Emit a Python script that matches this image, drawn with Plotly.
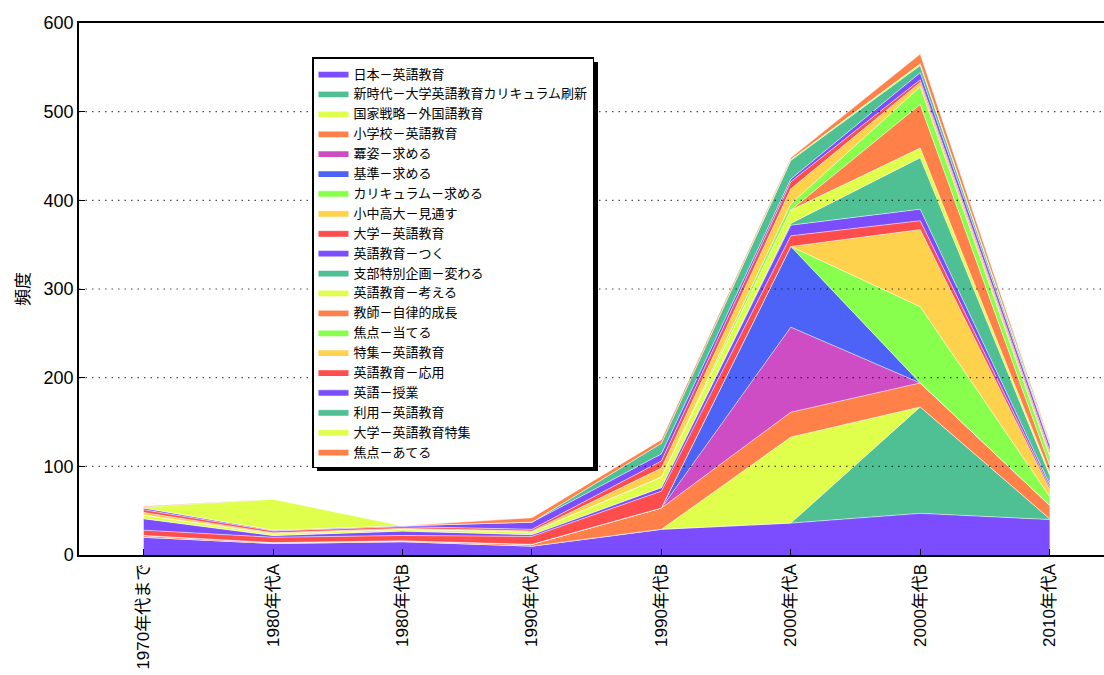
import plotly.graph_objects as go

periods = ["1970年代まで", "1980年代A", "1980年代B", "1990年代A",
           "1990年代B", "2000年代A", "2000年代B", "2010年代A"]

# Frequency of each topic per period (stacked bottom to top)
s_nihon_eigo = [20, 13, 15, 10, 29, 36, 47, 40]
s_shinjidai = [0, 0, 0, 0, 0, 0, 120, 1]
s_kokka = [0, 0, 0, 0, 0, 97, 0, 0]
s_shogakko = [2, 1, 1, 2, 24, 28, 27, 15]
s_beki = [0, 0, 0, 0, 0, 96, 0, 0]
s_kijun = [0, 0, 0, 0, 0, 91, 0, 0]
s_curriculum = [0, 0, 0, 0, 0, 0, 86, 10]
s_shochu = [0, 0, 0, 0, 0, 0, 87, 8]
s_daigaku = [6, 6, 6, 9, 19, 12, 10, 3]
s_tsuku = [13, 2, 5, 2, 4, 12, 13, 3]
s_shibu = [0, 0, 0, 0, 0, 2, 58, 10]
s_kangaeru = [4, 2, 2, 3, 12, 15, 11, 3]
s_kyoshi = [0, 0, 0, 0, 0, 0, 49, 8]
s_ateru_k = [0, 0, 0, 0, 0, 7, 20, 10]
s_tokushu = [3, 1, 1, 1, 10, 17, 5, 4]
s_oyo = [3, 2, 2, 2, 8, 8, 3, 3]
s_jugyo = [2, 1, 1, 8, 8, 3, 8, 6]
s_riyo = [0, 0, 0, 0, 12, 21, 8, 2]
s_daigaku_tokushu = [1, 35, 0, 0, 0, 1, 2, 1]
s_ateru_h = [1, 0, 0, 5, 4, 2, 11, 2]

names = ["日本－英語教育", "新時代－大学英語教育カリキュラム刷新", "国家戦略－外国語教育",
         "小学校－英語教育", "冪姿－求める", "基準－求める", "カリキュラム－求める",
         "小中高大－見通す", "大学－英語教育", "英語教育－つく", "支部特別企画－変わる",
         "英語教育－考える", "教師－自律的成長", "焦点－当てる", "特集－英語教育",
         "英語教育－応用", "英語－授業", "利用－英語教育", "大学－英語教育特集", "焦点－あてる"]

series = [s_nihon_eigo, s_shinjidai, s_kokka, s_shogakko, s_beki, s_kijun,
          s_curriculum, s_shochu, s_daigaku, s_tsuku, s_shibu, s_kangaeru,
          s_kyoshi, s_ateru_k, s_tokushu, s_oyo, s_jugyo, s_riyo,
          s_daigaku_tokushu, s_ateru_h]

PURPLE, TEAL, YELLOW, ORANGE = "#7b4dff", "#4fbf94", "#e0ff4d", "#ff8048"
MAGENTA, BLUE, GREEN, GOLD, RED = "#cf4dc4", "#4d63f7", "#88ff4d", "#ffd24d", "#ff4d4d"
colors = [PURPLE, TEAL, YELLOW, ORANGE, MAGENTA, BLUE, GREEN, GOLD, RED,
          PURPLE, TEAL, YELLOW, ORANGE, GREEN, GOLD, RED, PURPLE, TEAL, YELLOW, ORANGE]

fig = go.Figure()
for name, vals, col in zip(names, series, colors):
    fig.add_trace(go.Scatter(
        x=periods, y=vals, name=name, mode="lines", stackgroup="one",
        line=dict(width=0.8, color="rgba(255,255,255,0.65)"),
        fillcolor=col,
    ))

font_main = "Liberation Sans, Noto Sans CJK JP, sans-serif"
y_ticks = [0, 100, 200, 300, 400, 500, 600]

# dotted horizontal grid drawn over the filled areas
for v in y_ticks[1:-1]:
    fig.add_shape(type="line", xref="paper", yref="y", x0=0, x1=1, y0=v, y1=v,
                  line=dict(color="rgba(0,0,0,0.7)", width=1.2, dash="1.5px,5px"),
                  layer="above")

L, R, T, B = 79, 0, 23, 120
W, H = 1104, 675
pw, ph = W - L - R, H - T - B

def px_x(p):
    return (p - L) / pw

def px_y(p):
    return (H - B - p) / ph

# legend drop shadow
fig.add_shape(type="rect", xref="paper", yref="paper",
              x0=px_x(317), x1=px_x(598), y0=px_y(471), y1=px_y(62),
              fillcolor="black", line=dict(width=0), layer="above")

fig.update_layout(
    width=W, height=H,
    margin=dict(l=L, r=R, t=T, b=B),
    paper_bgcolor="white", plot_bgcolor="white",
    font=dict(family=font_main, color="black"),
    showlegend=True,
    legend=dict(
        x=px_x(312), y=px_y(57), xanchor="left", yanchor="top",
        bgcolor="white", bordercolor="black", borderwidth=1.5,
        font=dict(size=13, family="Noto Sans CJK JP, sans-serif"),
        traceorder="normal", itemwidth=30,
    ),
    xaxis=dict(
        range=[-0.5, 7.42], tickangle=-90, tickfont=dict(size=17),
        showgrid=False, showline=True, linecolor="black", linewidth=2,
        mirror=True, ticks="inside", ticklen=6, tickcolor="black",
    ),
    yaxis=dict(
        range=[0, 600], tickvals=y_ticks, tickfont=dict(size=18),
        showgrid=False, zeroline=False, showline=True, linecolor="black",
        linewidth=1.5, ticks="inside", ticklen=6, tickcolor="black",
        title=dict(text="頻度", font=dict(size=17), standoff=10),
    ),
)

fig.write_html("out.html")
